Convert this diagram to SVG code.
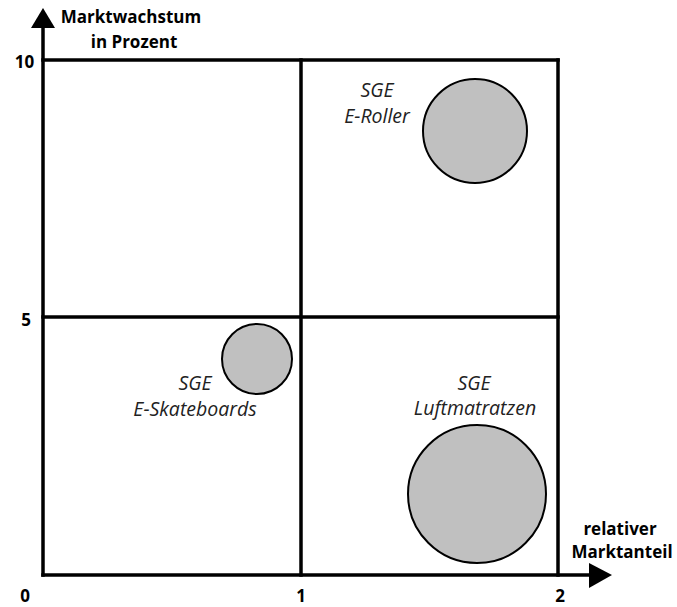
<svg xmlns="http://www.w3.org/2000/svg" width="677" height="607" viewBox="0 0 677 607">
<style>
.ln{stroke:#000;stroke-width:3.5;fill:none;stroke-linecap:square}
.ax{font-family:"Open Sans","Liberation Sans",sans-serif;font-weight:bold;font-size:17px;fill:#000;text-anchor:middle}
.lb{font-family:"Open Sans","Liberation Sans",sans-serif;font-style:italic;font-size:19.5px;fill:#222;text-anchor:middle}
.bub{fill:#c0c0c0;stroke:#000;stroke-width:2}
</style>
<rect width="677" height="607" fill="#fff"/>
<g id="connectors">
<line class="ln" x1="43" y1="60" x2="558" y2="60"/>
<line class="ln" x1="43" y1="317" x2="558" y2="317"/>
<line class="ln" x1="301" y1="60" x2="301" y2="575"/>
<line class="ln" x1="558" y1="60" x2="558" y2="575"/>
<line class="ln" x1="43" y1="575" x2="592" y2="575"/>
<line class="ln" x1="43" y1="26" x2="43" y2="575"/>
<polygon points="43,8 55,28 31,28" fill="#000"/>
<polygon points="612,575 589,563 589,588" fill="#000"/>
</g>
<g id="axis-labels">
<text class="ax" x="131" y="23">Marktwachstum</text>
<text class="ax" x="134" y="48">in Prozent</text>
<text class="ax" x="620" y="535">relativer</text>
<text class="ax" x="622" y="558">Marktanteil</text>
<text class="ax" x="24.5" y="68">10</text>
<text class="ax" x="26" y="326">5</text>
<text class="ax" x="25" y="602">0</text>
<text class="ax" x="301" y="602">1</text>
<text class="ax" x="560" y="602">2</text>
</g>
<g id="sge-eroller">
<circle class="bub" cx="475" cy="131" r="52"/>
<text class="lb" x="377" y="97">SGE</text>
<text class="lb" x="377" y="123">E-Roller</text>
</g>
<g id="sge-eskateboards">
<circle class="bub" cx="257" cy="359" r="35"/>
<text class="lb" x="195" y="390">SGE</text>
<text class="lb" x="195" y="416">E-Skateboards</text>
</g>
<g id="sge-luftmatratzen">
<circle class="bub" cx="477" cy="494" r="69"/>
<text class="lb" x="474" y="390">SGE</text>
<text class="lb" x="475" y="415">Luftmatratzen</text>
</g>
</svg>
